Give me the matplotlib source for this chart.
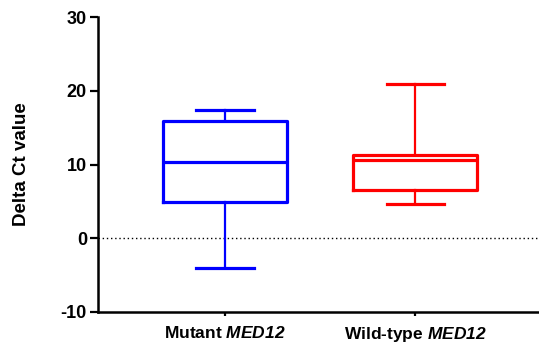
import matplotlib
matplotlib.use("Agg")
import matplotlib.pyplot as plt

plt.rcParams['font.family'] = ['Liberation Sans', 'DejaVu Sans']
plt.rcParams['mathtext.fontset'] = 'custom'
plt.rcParams['mathtext.rm'] = 'Liberation Sans:italic:bold'
plt.rcParams['mathtext.it'] = 'Liberation Sans:italic:bold'
plt.rcParams['mathtext.bfit'] = 'Liberation Sans:italic:bold'
plt.rcParams['axes.unicode_minus'] = False

categories = [r"Mutant $\mathit{MED12}$", r"Wild-type $\mathit{MED12}$"]
whislo = [-4.0, 4.6]
q1 = [4.9, 6.5]
med = [10.35, 10.6]
q3 = [15.9, 11.25]
whishi = [17.35, 20.95]
colors = ['#0000ff', '#ff0000']
yticks = [-10, 0, 10, 20, 30]

fig = plt.figure(figsize=(5.39, 3.48), dpi=100)
ax = fig.add_axes([98/539, 36/348, 1 - 98/539 + 0.01, 295/348])

for i in range(len(categories)):
    stats = [dict(whislo=whislo[i], q1=q1[i], med=med[i], q3=q3[i], whishi=whishi[i], fliers=[])]
    c = colors[i]
    ax.bxp(stats, positions=[i + 1], widths=0.65, showfliers=False,
           boxprops=dict(color=c, linewidth=2.3),
           medianprops=dict(color=c, linewidth=2.3),
           whiskerprops=dict(color=c, linewidth=1.6),
           capprops=dict(color=c, linewidth=2.3),
           capwidths=0.3, manage_ticks=False)

ax.axhline(0, color='black', linestyle=(0, (1, 2)), linewidth=1.0, zorder=0)

ax.set_xlim(0.332, 2.68)
ax.set_ylim(-10, 30)
ax.set_yticks(yticks)
ax.set_xticks([1, 2])
ax.set_xticklabels(categories, fontsize=12.5, fontweight='bold')
for lab in ax.get_yticklabels():
    lab.set_fontweight('bold')
    lab.set_fontsize(13)
ax.set_ylabel('Delta Ct value', fontsize=13.5, fontweight='bold', labelpad=22)

ax.spines['top'].set_visible(False)
ax.spines['right'].set_visible(False)
ax.spines['left'].set_linewidth(1.8)
ax.spines['bottom'].set_linewidth(1.8)
ax.tick_params(axis='y', length=6, width=1.6, pad=2)
ax.tick_params(axis='x', length=3, width=1.6, pad=6)

fig.savefig('out.png', dpi=100)
